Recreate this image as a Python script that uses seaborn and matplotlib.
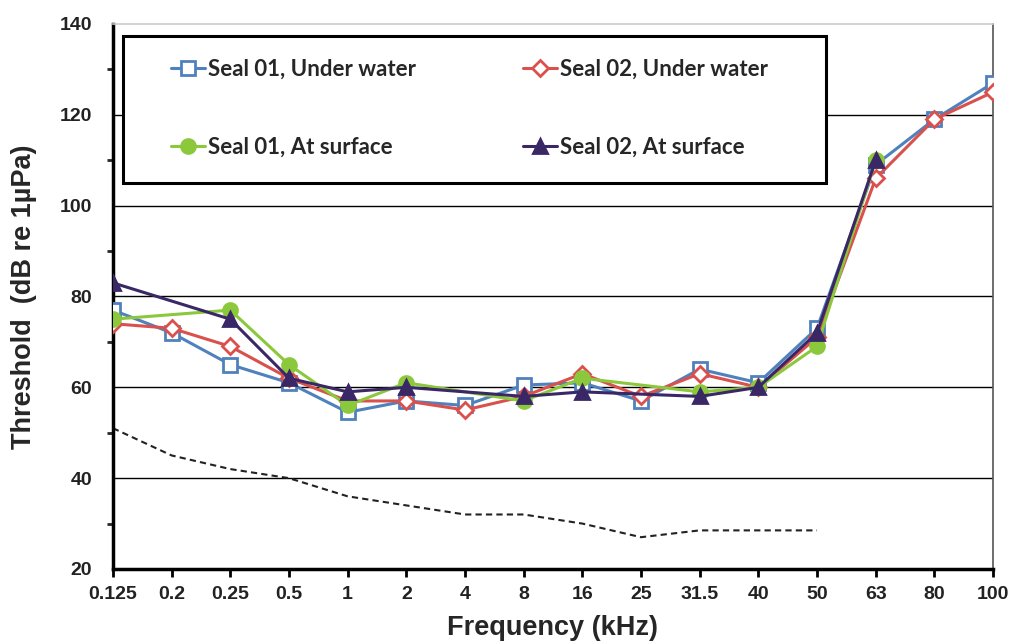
import numpy as np
import pandas as pd
import seaborn as sns
import matplotlib.pyplot as plt
from matplotlib.patches import Rectangle
from matplotlib.ticker import MultipleLocator

freqs = ['0.125', '0.2', '0.25', '0.5', '1', '2', '4', '8', '16', '25',
         '31.5', '40', '50', '63', '80', '100']

nan = np.nan
seal01_water = [77, 72, 65, 61, 54.5, 57, 56, 60.5, 61, 57, 64, 61, 73, 109, 119, 127]
seal02_water = [74, 73, 69, 62, 57, 57, 55, 58, 63, 58, 63, 60, 71, 106, 119, 125]
seal01_surface = [75, nan, 77, 65, 56, 61, nan, 57, 62, nan, 59, 60, 69, 110, nan, nan]
seal02_surface = [83, nan, 75, 62, 59, 60, nan, 58, 59, nan, 58, 60, 72, 110, nan, nan]
background = [51, 45, 42, 40, 36, 34, 32, 32, 30, 27, 28.5, 28.5, 28.5, nan, nan, nan]

sns.set_style('white')
plt.rcParams['font.family'] = ['Liberation Sans', 'DejaVu Sans']

df = pd.DataFrame({
    'pos': np.arange(len(freqs)),
    'Seal 01, Under water': seal01_water,
    'Seal 02, Under water': seal02_water,
    'Seal 01, At surface': seal01_surface,
    'Seal 02, At surface': seal02_surface,
    'bg': background,
})

fig = plt.figure(figsize=(10.13, 6.43), dpi=100)
ax = fig.add_axes([0.1115, 0.1151, 0.8688, 0.8476])

for y in [40, 60, 80, 100, 120]:
    ax.axhline(y, color='black', lw=1.0, zorder=1)

styles = [
    ('Seal 01, Under water', '#4F81BD', 's', 'white', 10),
    ('Seal 02, Under water', '#D9504D', 'D', 'white', 8),
    ('Seal 01, At surface', '#8CC83C', 'o', '#8CC83C', 10),
    ('Seal 02, At surface', '#3A2866', '^', '#3A2866', 10),
]
for name, col, mk, fc, ms in styles:
    sns.lineplot(data=df, x='pos', y=name, ax=ax, color=col, lw=2.2,
                 marker=mk, markersize=ms, markerfacecolor=fc,
                 markeredgecolor=col, markeredgewidth=2, label=name, zorder=3)

sns.lineplot(data=df, x='pos', y='bg', ax=ax, color='#222222', lw=1.5,
             dashes=False, linestyle=(0, (3, 2)), zorder=2)

ax.set_xlim(0, len(freqs) - 1)
ax.set_ylim(20, 140)
ax.set_xticks(np.arange(len(freqs)))
ax.set_xticklabels(freqs)
ax.yaxis.set_major_locator(MultipleLocator(20))
ax.yaxis.set_minor_locator(MultipleLocator(10))
ax.tick_params(axis='both', which='major', direction='out', length=6, width=2,
               labelsize=14, color='black')
ax.tick_params(axis='x', pad=6, bottom=True)
ax.tick_params(axis='y', pad=9)
ax.tick_params(axis='y', which='minor', direction='out', length=4, width=2, left=True)
for lab in ax.get_xticklabels() + ax.get_yticklabels():
    lab.set_fontweight('bold')
    lab.set_color('#222222')

ax.spines['left'].set_linewidth(2.5)
ax.spines['left'].set_color('black')
ax.spines['bottom'].set_linewidth(2.5)
ax.spines['bottom'].set_color('black')
ax.spines['right'].set_linewidth(1.2)
ax.spines['right'].set_color('#555555')
ax.spines['top'].set_linewidth(1.2)
ax.spines['top'].set_color('#cccccc')

ax.set_xlabel('Frequency (kHz)', fontsize=19.5, fontweight='bold', labelpad=9)
ax.set_ylabel('Threshold  (dB re 1µPa)', fontsize=19.5, fontweight='bold', labelpad=16)

# legend frame drawn separately, Excel style box bigger than its content
ax.add_patch(Rectangle((0.011, 0.708), 0.799, 0.27, transform=ax.transAxes,
                       facecolor='white', edgecolor='black', lw=2.2, zorder=4))

handles, labels = ax.get_legend_handles_labels()
order = [0, 2, 1, 3]
leg = ax.legend([handles[i] for i in order], [labels[i] for i in order],
                ncol=2, loc='upper left', bbox_to_anchor=(0.0665, 0.937),
                frameon=False, handlelength=1.5, handletextpad=0.15,
                columnspacing=4.82, labelspacing=2.6, borderpad=0, borderaxespad=0,
                prop={'family': 'Lato', 'weight': 'bold', 'size': 16})
leg.set_zorder(5)

fig.savefig('out.png', dpi=100)
